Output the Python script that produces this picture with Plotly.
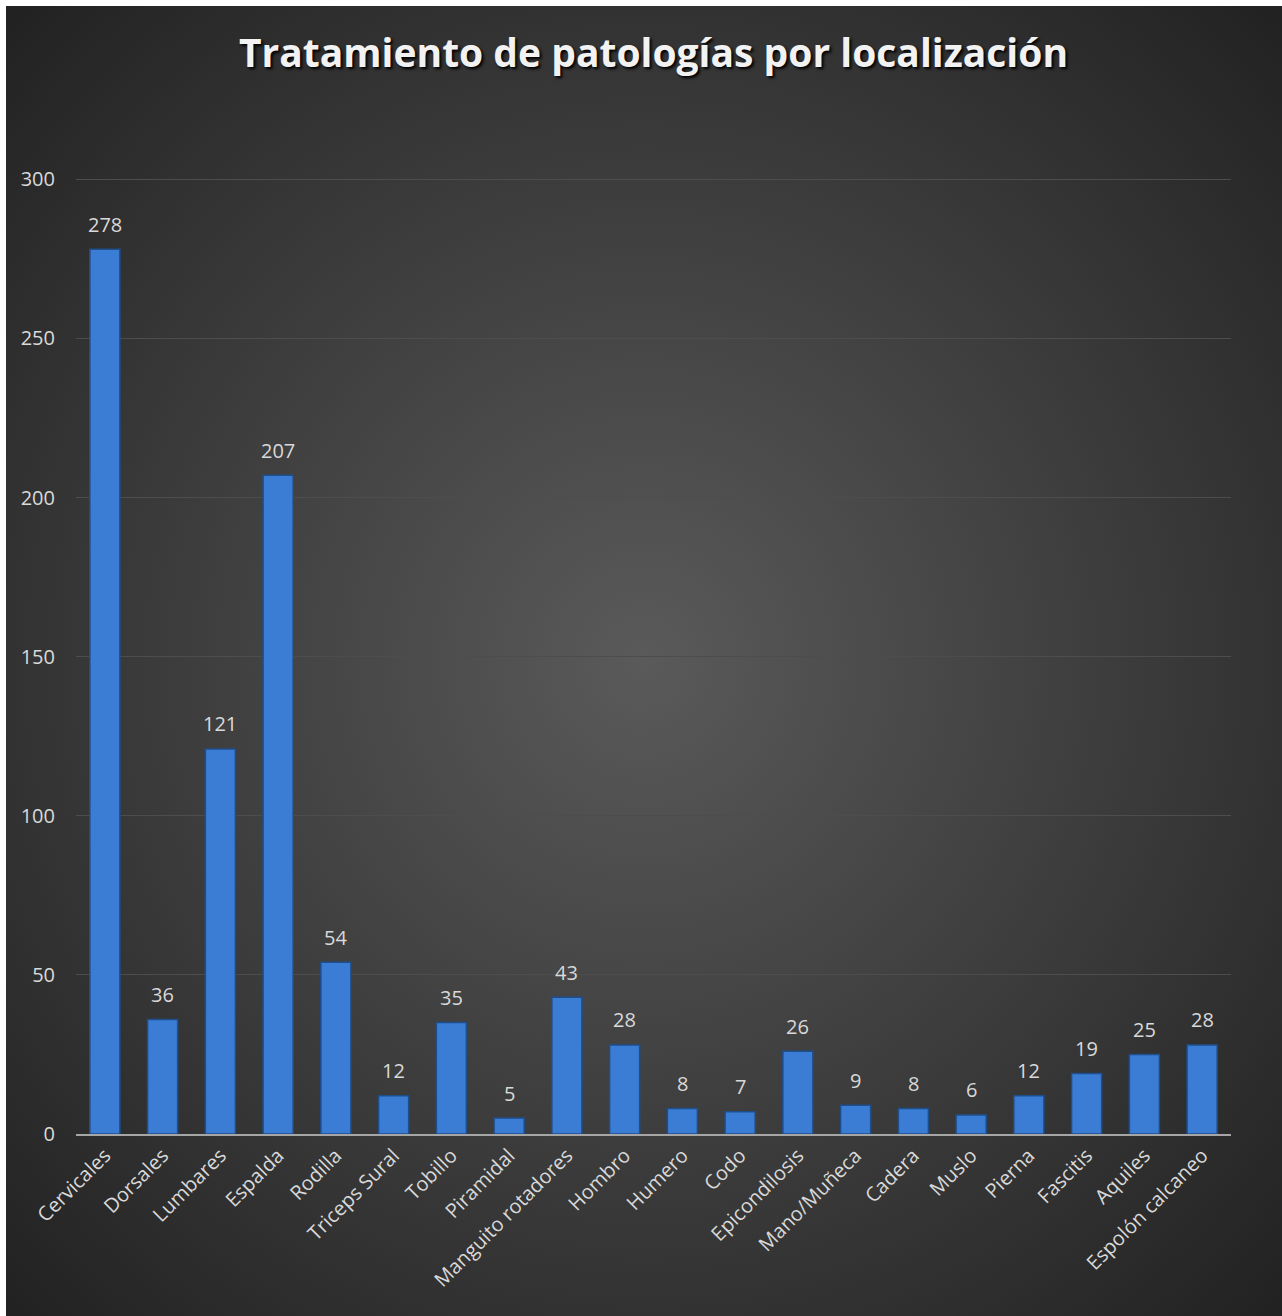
import base64
import plotly.graph_objects as go

categories = ["Cervicales", "Dorsales", "Lumbares", "Espalda", "Rodilla", "Triceps Sural",
              "Tobillo", "Piramidal", "Manguito rotadores", "Hombro", "Humero", "Codo",
              "Epicondilosis", "Mano/Muñeca", "Cadera", "Muslo", "Pierna", "Fascitis",
              "Aquiles", "Espolón calcaneo"]
values = [278, 36, 121, 207, 54, 12, 35, 5, 43, 28, 8, 7, 26, 9, 8, 6, 12, 19, 25, 28]
y_ticks = [0, 50, 100, 150, 200, 250, 300]

W, H = 1282, 1316
L, R, T, B = 76, 51, 178, 182

svg = f'''<svg xmlns="http://www.w3.org/2000/svg" width="{W}" height="{H}" viewBox="0 0 {W} {H}">
<defs><radialGradient id="g" cx="50%" cy="50%" r="70%">
<stop offset="0%" stop-color="#5a5a5a"/><stop offset="100%" stop-color="#222222"/></radialGradient></defs>
<rect x="6" y="6" width="{W-6}" height="{H-6}" fill="url(#g)"/></svg>'''
src = "data:image/svg+xml;base64," + base64.b64encode(svg.encode()).decode()

fig = go.Figure()
fig.add_trace(go.Bar(
    x=categories, y=values,
    marker=dict(color="#3b7dd4", line=dict(color="#1f4e8c", width=1.5)),
    hoverinfo="x+y",
))

for c, v in zip(categories, values):
    fig.add_annotation(x=c, y=v, text=str(v), showarrow=False, yshift=25,
                       yanchor="middle", font=dict(size=20, color="#d9d9d9"))

pw = W - L - R
ph = H - T - B
fig.update_layout(
    width=W, height=H,
    margin=dict(l=L, r=R, t=T, b=B),
    paper_bgcolor="white", plot_bgcolor="rgba(0,0,0,0)",
    bargap=0.48,
    showlegend=False,
    font=dict(family="Open Sans", color="#d9d9d9"),
    title=dict(text="<b>Tratamiento de patologías por localización</b>",
               x=0.5, xref="paper", xanchor="center", y=1 - 53 / H, yanchor="middle",
               font=dict(size=39, color="#f2f2f2", family="Open Sans",
                         shadow="2px 2px 3px #000000")),
    images=[dict(source=src, xref="paper", yref="paper",
                 x=-L / pw, y=1 + T / ph, sizex=W / pw, sizey=H / ph,
                 xanchor="left", yanchor="top", sizing="stretch", layer="below")],
    xaxis=dict(tickangle=-45, tickfont=dict(size=20, color="#d9d9d9"),
               showgrid=False, showline=True, linecolor="#a6a6a6", linewidth=2,
               ticks=""),
    yaxis=dict(range=[0, 300.4], tickvals=y_ticks, tickfont=dict(size=20, color="#d9d9d9"),
               gridcolor="#4d4d4d", gridwidth=1, zeroline=False, showline=False,
               ticklabelstandoff=20),
)

fig.write_html("out.html", config={"displayModeBar": False},
               post_script="document.body.style.margin='0';")
